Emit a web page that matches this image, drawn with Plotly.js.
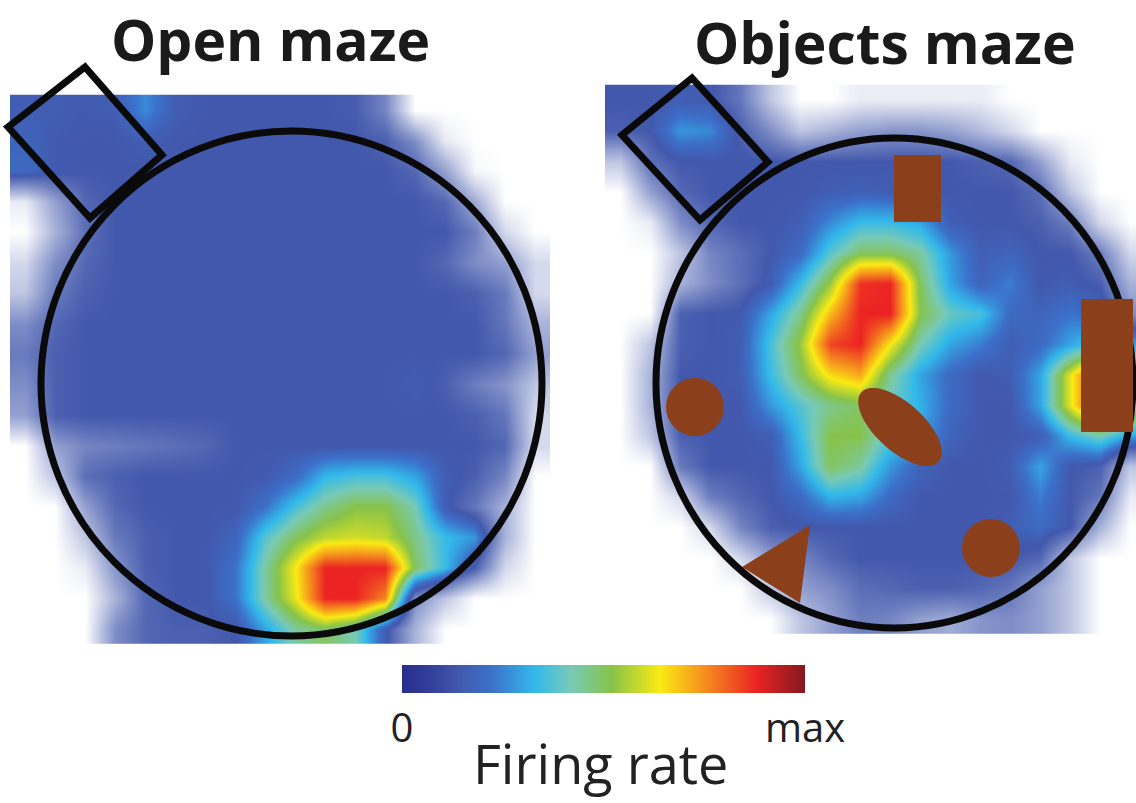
<!DOCTYPE html>
<html>
<head>
<meta charset="utf-8">
<script src="https://cdn.plot.ly/plotly-3.0.1.min.js"></script>
<style>
  html, body { margin: 0; padding: 0; background: #ffffff; }
  #chart { width: 1136px; height: 803px; }
</style>
</head>
<body>
<div id="chart"></div>
<script>
// ---------------- DATA ----------------
// Panel titles
const panelTitles = ['Open maze', 'Objects maze'];
// Colour bar labels
const colorbarTickText = ['0', 'max'];
const colorbarTitle = 'Firing rate';

// Normalised firing rate maps (0 = silent, 1 = max); negative values = unvisited / no data (drawn white)
const openMazeRate = [
  [ .16, .16, .15, .16, .26, .16, .14, .14, .14, .14, .14, .13, .02,-.30,-.30,-.30,-.30,-.30],
  [ .18, .15, .14, .14, .16, .14, .14, .14, .14, .14, .14, .14, .12, .00,-.25,-.30,-.30,-.30],
  [ .20, .15, .14, .14, .14, .14, .14, .14, .14, .14, .14, .14, .14, .10,-.05,-.28,-.30,-.30],
  [-.25,-.05, .10, .14, .14, .14, .14, .14, .14, .14, .14, .14, .14, .14, .10,-.08,-.30,-.30],
  [-.30,-.10, .08, .14, .14, .14, .14, .14, .14, .14, .14, .14, .14, .14, .14, .04,-.20,-.30],
  [-.20, .00, .10, .14, .14, .14, .14, .14, .14, .14, .14, .14, .14, .14, .10, .00,-.05,-.20],
  [-.15, .05, .12, .14, .14, .14, .14, .14, .14, .14, .14, .14, .14, .14, .14, .12, .05,-.20],
  [ .00, .10, .14, .14, .14, .14, .14, .14, .14, .14, .14, .14, .14, .14, .14, .14, .06,-.10],
  [ .05, .12, .14, .14, .14, .14, .14, .14, .14, .14, .14, .14, .14, .14, .14, .14, .10,-.05],
  [ .00, .12, .14, .14, .14, .14, .14, .14, .14, .14, .14, .14, .14, .16, .12, .04,-.02,-.15],
  [-.05, .12, .14, .14, .14, .14, .14, .14, .14, .14, .14, .14, .14, .14, .14, .12, .06,-.20],
  [-.30,-.05, .02, .04, .06, .08, .10, .14, .14, .14, .14, .14, .14, .14, .14, .14, .10,-.20],
  [-.30,-.15, .08, .12, .14, .14, .14, .14, .15, .20, .33, .36, .36, .30, .16, .12, .02,-.30],
  [-.30,-.30,-.05, .10, .14, .14, .14, .14, .22, .36, .46, .52, .52, .42, .16, .06,-.10,-.30],
  [-.30,-.30,-.15, .05, .12, .14, .14, .18, .38, .50, .58, .60, .58, .46, .34, .28,-.10,-.30],
  [-.30,-.30,-.25,-.02, .12, .14, .14, .22, .44, .64, .88, .88, .88, .50, .34, .12,-.20,-.30],
  [-.30,-.30,-.30,-.10, .10, .14, .14, .22, .44, .62, .88, .88, .76, .00,-.15,-.30,-.30,-.30],
  [-.30,-.30,-.30, .00, .10, .12, .12, .14, .30, .44, .50, .42, .16,-.10,-.30,-.30,-.30,-.30]
];

const objectsMazeRate = [
  [ .14, .14, .16, .15, .06,-.15,-.30,-.30,-.25,-.25,-.25,-.25,-.25,-.30,-.30,-.30,-.30,-.30],
  [ .12, .14, .28, .26, .12, .00,-.15,-.10,-.05,-.02,-.02,-.05,-.12,-.20,-.30,-.30,-.30,-.30],
  [-.15, .08, .14, .14, .14, .14, .14, .14, .14, .14, .14, .14, .12, .10,-.05,-.25,-.30,-.30],
  [-.30,-.05, .10, .14, .14, .14, .14, .16, .17, .16, .14, .14, .14, .14, .08,-.15,-.30,-.30],
  [-.30,-.25, .00, .10, .14, .14, .16, .26, .34, .34, .30, .16, .14, .14, .12, .04,-.20,-.30],
  [-.30,-.30,-.15, .02, .08, .14, .20, .38, .50, .50, .44, .28, .16, .18, .14, .14, .04,-.20],
  [-.30,-.30,-.10, .00, .08, .16, .34, .54, .86, .88, .50, .30, .18, .24, .14, .16, .12,-.10],
  [-.30,-.30, .12, .14, .15, .30, .46, .70, .88, .88, .52, .40, .36, .20, .18, .22, .20, .00],
  [-.30,-.15, .12, .14, .16, .36, .54, .84, .88, .64, .42, .30, .24, .16, .20, .30, .40, .30],
  [-.30,-.10, .14, .14, .16, .34, .50, .66, .72, .45, .30, .20, .14, .16, .30, .62, .90, .60],
  [-.30,-.10, .14, .14, .14, .28, .38, .46, .50, .40, .32, .20, .14, .14, .30, .62, .90, .60],
  [-.30,-.15, .12, .14, .14, .16, .34, .52, .52, .38, .30, .18, .14, .14, .16, .34, .42, .30],
  [-.30,-.30, .05, .14, .14, .14, .30, .50, .44, .28, .18, .14, .14, .16, .30, .14, .12,-.15],
  [-.30,-.30,-.20, .04, .10, .14, .20, .32, .30, .20, .14, .14, .14, .14, .24, .14, .06,-.25],
  [-.30,-.30,-.30,-.20, .02, .12, .14, .14, .14, .14, .14, .14, .14, .16, .20, .14,-.10,-.30],
  [-.30,-.30,-.30,-.30,-.20,-.05, .02, .10, .14, .14, .14, .14, .14, .14, .10,-.15,-.30,-.30],
  [-.30,-.30,-.30,-.30,-.30,-.15,-.05, .00, .08, .10, .12, .12, .10, .06,-.05,-.15,-.30,-.30],
  [-.30,-.30,-.30,-.30,-.30,-.30,-.15,-.05, .04, .02,-.05,-.08,-.02, .00,-.05,-.15,-.30,-.30]
];

// ---------------- LAYOUT / STYLE ----------------
const W = 1136, H = 803;
const NODATA = -0.3;                       // value used for unvisited bins
const BROWN = 'rgb(139,64,27)';
const FONT = 'Open Sans, Noto Sans, sans-serif';

// jet-like scale for the firing-rate colour bar (0..1)
const rateScale = [
  [0.00, 'rgb(40,45,140)'],
  [0.08, 'rgb(52,66,156)'],
  [0.14, 'rgb(66,88,172)'],
  [0.22, 'rgb(60,112,202)'],
  [0.33, 'rgb(50,185,235)'],
  [0.42, 'rgb(120,202,182)'],
  [0.52, 'rgb(135,195,75)'],
  [0.64, 'rgb(250,235,20)'],
  [0.76, 'rgb(245,135,30)'],
  [0.88, 'rgb(235,35,35)'],
  [1.00, 'rgb(130,25,30)']
];
// same scale on the map range [NODATA, 1]; unvisited bins fade to white
const mapScale = [[0, 'rgb(255,255,255)']].concat(
  rateScale.filter(s => s[0] >= 0.14).map(s => [(s[0] - NODATA) / (1 - NODATA), s[1]])
);

function mapTrace(z, x0, y0) {
  return {
    type: 'heatmap', z: z, x0: x0, dx: 30, y0: y0, dy: 30.5,
    zmin: NODATA, zmax: 1, colorscale: mapScale, zsmooth: 'best',
    showscale: false, hoverinfo: 'skip'
  };
}

const traces = [
  mapTrace(openMazeRate, 25, 110),
  mapTrace(objectsMazeRate, 620, 100),
  {
    type: 'scatter', mode: 'markers', x: [-100], y: [-100], hoverinfo: 'skip', showlegend: false,
    marker: {
      size: 1, color: [0], cmin: 0, cmax: 1, colorscale: rateScale, showscale: true,
      colorbar: {
        orientation: 'h', x: 603.5 / W, xanchor: 'center', y: 1 - 665 / H, yanchor: 'top',
        len: 403, lenmode: 'pixels', thickness: 28, thicknessmode: 'pixels',
        outlinewidth: 0, xpad: 0, ypad: 0,
        tickvals: [0, 1], ticktext: colorbarTickText, ticks: '',
        tickfont: { family: FONT, size: 40, color: '#222' }
      }
    }
  }
];

function ellipsePath(cx, cy, a, b, deg) {
  const th = deg * Math.PI / 180, pts = [];
  for (let i = 0; i < 48; i++) {
    const t = 2 * Math.PI * i / 48;
    pts.push((cx + a * Math.cos(t) * Math.cos(th) - b * Math.sin(t) * Math.sin(th)).toFixed(1) + ',' +
             (cy + a * Math.cos(t) * Math.sin(th) + b * Math.sin(t) * Math.cos(th)).toFixed(1));
  }
  return 'M' + pts.join(' L') + ' Z';
}

const outline = { color: '#0a0a0a', width: 7 };
const shapes = [
  // open maze arena + start box
  { type: 'circle', xref: 'x', yref: 'y', x0: 41, x1: 542, y0: 131, y1: 636, line: outline },
  { type: 'path', xref: 'x', yref: 'y', path: 'M 8 127 L 85 67 L 162 155 L 90 218 Z', line: outline },
  // objects maze
  { type: 'path', xref: 'x', yref: 'y', path: 'M 810 525 L 742 567 L 800 603 Z', fillcolor: BROWN, line: { width: 0 } },
  { type: 'circle', xref: 'x', yref: 'y', x0: 656, x1: 1133, y0: 138, y1: 628, line: outline },
  { type: 'path', xref: 'x', yref: 'y', path: 'M 622 135 L 692 78 L 768 162 L 700 220 Z', line: outline },
  { type: 'rect', xref: 'x', yref: 'y', x0: 894, x1: 941, y0: 155, y1: 222, fillcolor: BROWN, line: { width: 0 } },
  { type: 'rect', xref: 'x', yref: 'y', x0: 1081, x1: 1133, y0: 299, y1: 432, fillcolor: BROWN, line: { width: 0 } },
  { type: 'circle', xref: 'x', yref: 'y', x0: 666, x1: 724, y0: 378, y1: 436, fillcolor: BROWN, line: { width: 0 } },
  { type: 'circle', xref: 'x', yref: 'y', x0: 962, x1: 1020, y0: 519, y1: 577, fillcolor: BROWN, line: { width: 0 } },
  { type: 'path', xref: 'x', yref: 'y', path: ellipsePath(900, 427, 52, 24, 42), fillcolor: BROWN, line: { width: 0 } }
];

const annotations = [
  { text: '<b>' + panelTitles[0] + '</b>', x: 270, y: 39, xref: 'x', yref: 'y', showarrow: false,
    xanchor: 'center', yanchor: 'middle', font: { family: FONT, size: 57, color: '#1a1a1a' } },
  { text: '<b>' + panelTitles[1] + '</b>', x: 885, y: 42, xref: 'x', yref: 'y', showarrow: false,
    xanchor: 'center', yanchor: 'middle', font: { family: FONT, size: 57, color: '#1a1a1a' } },
  { text: colorbarTitle, x: 600, y: 763, xref: 'x', yref: 'y', showarrow: false,
    xanchor: 'center', yanchor: 'middle', font: { family: FONT, size: 54, color: '#222' } }
];

const layout = {
  width: W, height: H,
  margin: { l: 0, r: 0, t: 0, b: 0 },
  paper_bgcolor: '#ffffff', plot_bgcolor: '#ffffff',
  xaxis: { range: [0, W], visible: false, fixedrange: true },
  yaxis: { range: [H, 0], visible: false, fixedrange: true },
  showlegend: false,
  shapes: shapes,
  annotations: annotations
};

Plotly.newPlot('chart', traces, layout, { displayModeBar: false, staticPlot: true });
</script>
</body>
</html>
